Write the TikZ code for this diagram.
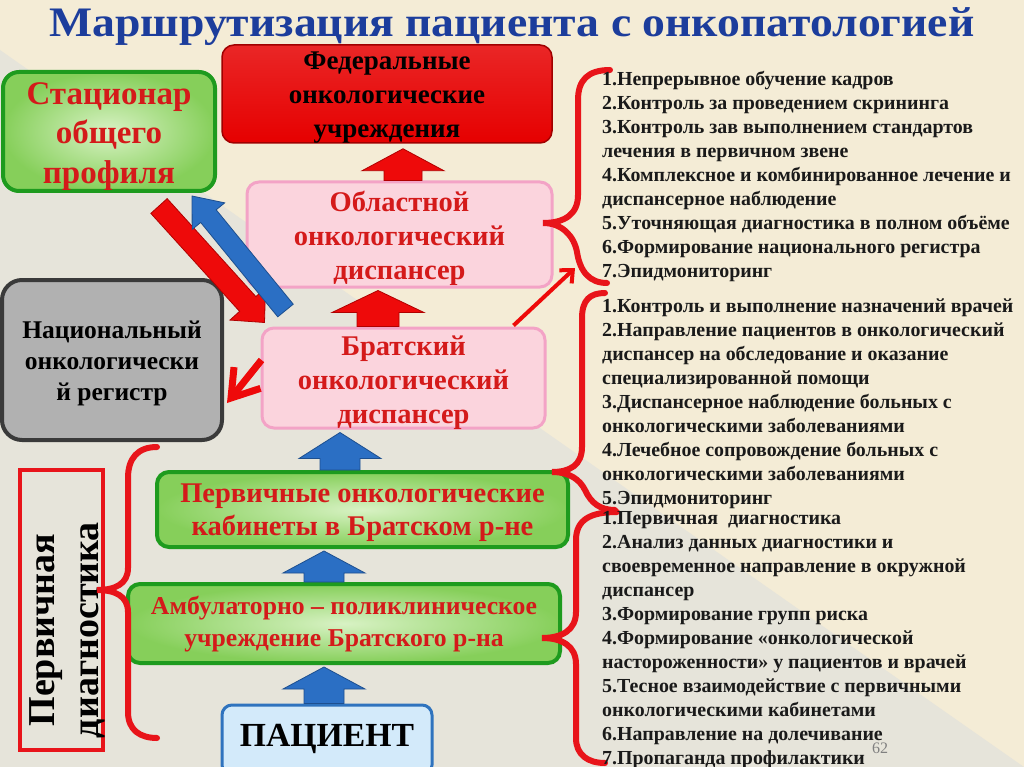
\documentclass[tikz,border=0pt]{standalone}
\usepackage{fontspec}
\setmainfont{Liberation Serif}
\usetikzlibrary{calc,arrows.meta}
\definecolor{bgbeige}{HTML}{F4ECD6}
\definecolor{bggray}{HTML}{E6E4DA}
\definecolor{titleblue}{HTML}{1C3D9C}
\definecolor{txtred}{HTML}{D41A1A}
\definecolor{arrred}{HTML}{EE0A0A}
\definecolor{arrreddark}{HTML}{B00000}
\definecolor{arrblue}{HTML}{2B6FC4}
\definecolor{arrbluedark}{HTML}{1D4F8F}
\definecolor{pinkfill}{HTML}{FBD4DD}
\definecolor{pinkline}{HTML}{F3A3C6}
\definecolor{greenline}{HTML}{1E9B1E}
\definecolor{greenfill}{HTML}{86CF5A}
\definecolor{greenlight}{HTML}{D8F2C4}
\definecolor{blueline}{HTML}{2F73BE}
\definecolor{bluefill}{HTML}{D3EAFA}
\definecolor{grayfill}{HTML}{B1B1B1}
\definecolor{grayline}{HTML}{3A3A3A}
\definecolor{bracered}{HTML}{E8141A}
\definecolor{listtxt}{HTML}{1A1A1A}
\definecolor{fedred}{HTML}{E60000}
\definecolor{fedline}{HTML}{A00000}

\newcommand\blockarrow[6]{%
  \coordinate (bah) at ($(#3)!#6!(#2)$);
  \draw[#1] ($(#2)!#4!90:(#3)$) -- ($(bah)!#4!-90:(#2)$) -- ($(bah)!#5!-90:(#2)$) -- (#3) -- ($(bah)!#5!90:(#2)$) -- ($(bah)!#4!90:(#2)$) -- ($(#2)!#4!-90:(#3)$) -- cycle;}

\begin{document}
\begin{tikzpicture}[x=1pt,y=-1pt,
  box/.style={rounded corners=12pt, inner sep=0pt},
  btext/.style={align=center, inner sep=0pt},
  fedbox/.style={box, draw=fedline, line width=1.5pt, top color=fedred!85!white, bottom color=fedred,
     minimum width=330pt, minimum height=98pt},
  statbox/.style={box, rounded corners=16pt, draw=greenline, line width=4pt, inner color=greenlight, outer color=greenfill,
     minimum width=212pt, minimum height=119pt},
  pinkbox/.style={box, draw=pinkline, line width=3pt, fill=pinkfill},
  natbox/.style={box, rounded corners=20pt, draw=grayline, line width=4pt, fill=grayfill,
     minimum width=220pt, minimum height=160pt},
  greenbox/.style={box, draw=greenline, line width=4pt, inner color=greenlight, outer color=greenfill},
  patbox/.style={box, rounded corners=10pt, draw=blueline, line width=3pt, fill=bluefill,
     minimum width=210pt, minimum height=70pt},
  diagbox/.style={draw=bracered, line width=4pt, minimum width=83pt, minimum height=280pt, inner sep=0pt},
  redarr/.style={fill=arrred, draw=arrreddark, line width=0.8pt, line join=miter},
  bluearr/.style={fill=arrblue, draw=arrbluedark, line width=0.8pt, line join=miter},
  thinred/.style={draw=arrred, line width=7pt},
  brace/.style={draw=bracered, line width=6pt, line cap=round},
  listtext/.style={anchor=north west, inner sep=0pt, align=left, text=listtxt,
     font=\fontsize{19.9}{24}\selectfont\bfseries}
]
\useasboundingbox (0,0) rectangle (1024,767);
% background
\fill[bgbeige] (0,0) rectangle (1024,767);
\fill[bggray] (0,50) -- (1024,767) -- (0,767) -- cycle;

% title
\node[text=titleblue, inner sep=0pt] (title) at (512,27) {\resizebox{925pt}{\height}{\fontsize{42}{42}\selectfont\bfseries Маршрутизация пациента с онкопатологией}};

% boxes
\node[fedbox] (fed) at (387,94) {};
\node[btext, font=\fontsize{27}{34}\selectfont\bfseries, text=black] (fedt) at ($(fed.center)+(0,4)$) {Федеральные\\онкологические\\учреждения};
\node[statbox] (stat) at (109,131.5) {};
\node[btext, font=\fontsize{33}{39.5}\selectfont\bfseries, text=txtred] (statt) at ($(stat.center)+(0,5)$) {Стационар\\общего\\профиля};
\node[pinkbox, minimum width=305pt, minimum height=105pt] (obl) at (399.5,234.5) {};
\node[btext, font=\fontsize{28.5}{34}\selectfont\bfseries, text=txtred] (oblt) at ($(obl.center)+(0,4)$) {Областной\\онкологический\\диспансер};
\node[natbox] (nat) at (112,360) {};
\node[btext, font=\fontsize{25.5}{31}\selectfont\bfseries, text=black] (natt) at ($(nat.center)+(0,3)$) {Национальный\\онкологически\\й регистр};
\node[pinkbox, minimum width=283pt, minimum height=100pt] (brat) at (403.5,378) {};
\node[btext, font=\fontsize{28.5}{34}\selectfont\bfseries, text=txtred] (bratt) at ($(brat.center)+(0,5)$) {Братский\\онкологический\\диспансер};
\node[greenbox, minimum width=411pt, minimum height=75pt] (perv) at (362.5,509.5) {};
\node[btext, font=\fontsize{28.5}{33}\selectfont\bfseries, text=txtred] (pervt) at ($(perv.center)+(0,3)$) {Первичные онкологические\\кабинеты в Братском р-не};
\node[greenbox, minimum width=432pt, minimum height=79pt] (amb) at (344,623.5) {};
\node[btext, font=\fontsize{25.7}{32}\selectfont\bfseries, text=txtred] (ambt) at ($(amb.center)+(0,1)$) {Амбулаторно -- поликлиническое\\учреждение Братского р-на};
\node[patbox] (pat) at (327,740) {};
\node[btext, font=\fontsize{33.7}{34}\selectfont\bfseries, text=black] (patt) at ($(pat.center)+(0,-1)$) {ПАЦИЕНТ};
\node[diagbox] (diag) at (61.5,610) {};
\node[rotate=90, btext, font=\fontsize{38}{44}\selectfont\bfseries] (diagt) at ($(diag.center)+(6,20)$) {Первичная\\диагностика};

% block arrows
\coordinate (a1s) at ($(obl.north)+(3.5,0)$);
\coordinate (a1e) at ($(fed.south)+(16,5)$);
\blockarrow{redarr}{a1s}{a1e}{19pt}{41pt}{22pt}
\coordinate (a2s) at ($(brat.north)+(-25.5,0)$);
\coordinate (a2e) at ($(obl.south)+(-21.5,2)$);
\blockarrow{redarr}{a2s}{a2e}{21pt}{46pt}{22pt}
\coordinate (a3s) at ($(perv.north)+(-22.5,0)$);
\coordinate (a3e) at ($(brat.south)+(-63.5,3)$);
\blockarrow{bluearr}{a3s}{a3e}{20pt}{41pt}{26pt}
\coordinate (a4s) at ($(amb.north)+(-20,0)$);
\coordinate (a4e) at ($(perv.south)+(-38.5,2)$);
\blockarrow{bluearr}{a4s}{a4e}{20pt}{41pt}{22pt}
\coordinate (a5s) at ($(pat.north)+(-3,0)$);
\coordinate (a5e) at ($(amb.south)+(-20,2)$);
\blockarrow{bluearr}{a5s}{a5e}{20pt}{41pt}{22pt}
\coordinate (a6s) at ($(stat.south east)+(-58,13)$);
\coordinate (a6e) at ($(brat.north west)+(4,-4)$);
\blockarrow{redarr}{a6s}{a6e}{11pt}{24pt}{25pt}
\coordinate (a7s) at ($(brat.north west)+(25,-16)$);
\coordinate (a7e) at ($(stat.south east)+(-25,3)$);
\blockarrow{bluearr}{a7s}{a7e}{10pt}{21pt}{26pt}

% thin red arrows
\coordinate (r1s) at ($(brat.west)+(1,-18)$);
\coordinate (r1e) at ($(nat.east)+(3,43)$);
\draw[thinred, -{Straight Barb[length=26pt,width=34pt]}] (r1s) -- (r1e);
\coordinate (r2s) at ($(brat.north east)+(-33,-1)$);
\coordinate (r2e) at (575,268);
\draw[thinred, line width=4pt, -{Straight Barb[length=10pt,width=18pt]}] (r2s) -- (r2e);

% braces
\draw[brace] (610,70) .. controls (588,70) and (578,80) .. (578,100) -- (578,195)
  .. controls (578,214) and (565,223) .. (543,223)
  .. controls (562,223) and (574,236) .. (577,252)
  .. controls (580,272) and (590,283) .. (607,283);
\draw[brace] (605,293) .. controls (590,293) and (582,300) .. (582,318) -- (582,447)
  .. controls (582,465) and (570,472) .. (552,472)
  .. controls (570,472) and (580,480) .. (585,490)
  .. controls (591,503) and (600,510) .. (615,510);
\draw[brace] (617,512) .. controls (590,512) and (576,520) .. (576,540) -- (576,612)
  .. controls (576,630) and (562,638) .. (542,638)
  .. controls (562,638) and (576,646) .. (576,664) -- (576,738)
  .. controls (576,755) and (588,763) .. (605,763);
\draw[brace] (157,447) .. controls (138,447) and (128,458) .. (128,478) -- (128,568)
  .. controls (128,584) and (115,590) .. (97,590)
  .. controls (115,590) and (128,596) .. (128,612) -- (128,712)
  .. controls (128,730) and (140,738) .. (157,738);

% lists
\node[listtext] (l1) at (602,71.5) {1.Непрерывное обучение кадров\\
2.Контроль за проведением скрининга\\
3.Контроль зав выполнением стандартов\\
лечения в первичном звене\\
4.Комплексное и комбинированное лечение и\\
диспансерное наблюдение\\
5.Уточняющая диагностика в полном объёме\\
6.Формирование национального регистра\\
7.Эпидмониторинг};
\node[listtext] (l2) at (602,298.5) {1.Контроль и выполнение назначений врачей\\
2.Направление пациентов в онкологический\\
диспансер на обследование и оказание\\
специализированной помощи\\
3.Диспансерное наблюдение больных с\\
онкологическими заболеваниями\\
4.Лечебное сопровождение больных с\\
онкологическими заболеваниями\\
5.Эпидмониторинг};
\node[listtext] (l3) at (602,511.5) {1.Первичная\ \ диагностика\\
2.Анализ данных диагностики и\\
своевременное направление в окружной\\
диспансер\\
3.Формирование групп риска\\
4.Формирование «онкологической\\
настороженности» у пациентов и врачей\\
5.Тесное взаимодействие с первичными\\
онкологическими кабинетами\\
6.Направление на долечивание\\
7.Пропаганда профилактики};
\node[text=gray, inner sep=0pt, font=\fontsize{16}{16}\selectfont] (pg) at (880,748) {62};
\end{tikzpicture}
\end{document}
